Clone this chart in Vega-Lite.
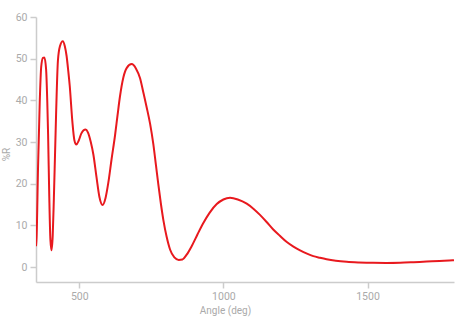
{
  "$schema": "https://vega.github.io/schema/vega-lite/v6.json",
  "width": 418,
  "height": 265,
  "autosize": {"type": "none"},
  "padding": {"left": 36, "top": 17, "right": 20, "bottom": 36},
  "config": {
    "view": {"stroke": null},
    "font": "Roboto",
    "axis": {
      "domainColor": "#cccccc",
      "domainWidth": 1.5,
      "tickColor": "#cccccc",
      "tickWidth": 1.5,
      "tickSize": 6,
      "labelColor": "#aaaaaa",
      "labelFont": "Roboto",
      "labelFontSize": 10.5,
      "titleColor": "#aaaaaa",
      "titleFont": "Roboto",
      "titleFontSize": 10,
      "titleFontWeight": "normal",
      "grid": false
    }
  },
  "data": {
    "values": [
      {"deg": 350, "r": 5.0},
      {"deg": 352, "r": 7.0},
      {"deg": 357, "r": 23.7},
      {"deg": 363, "r": 39.7},
      {"deg": 368, "r": 48.0},
      {"deg": 374, "r": 50.2},
      {"deg": 379, "r": 50.3},
      {"deg": 385, "r": 47.5},
      {"deg": 389, "r": 40.0},
      {"deg": 392, "r": 31.7},
      {"deg": 396, "r": 17.0},
      {"deg": 400, "r": 6.5},
      {"deg": 404, "r": 4.0},
      {"deg": 408, "r": 7.5},
      {"deg": 412, "r": 16.5},
      {"deg": 416, "r": 27.0},
      {"deg": 420, "r": 37.5},
      {"deg": 426, "r": 49.5},
      {"deg": 433, "r": 53.0},
      {"deg": 443, "r": 54.2},
      {"deg": 450, "r": 53.0},
      {"deg": 456, "r": 50.7},
      {"deg": 462, "r": 47.0},
      {"deg": 467, "r": 43.5},
      {"deg": 476, "r": 35.0},
      {"deg": 483, "r": 30.5},
      {"deg": 490, "r": 29.4},
      {"deg": 498, "r": 30.3},
      {"deg": 507, "r": 32.0},
      {"deg": 515, "r": 32.8},
      {"deg": 522, "r": 33.0},
      {"deg": 530, "r": 32.3},
      {"deg": 540, "r": 30.0},
      {"deg": 549, "r": 27.0},
      {"deg": 560, "r": 21.5},
      {"deg": 570, "r": 16.8},
      {"deg": 581, "r": 14.9},
      {"deg": 591, "r": 16.5},
      {"deg": 601, "r": 20.3},
      {"deg": 612, "r": 25.8},
      {"deg": 624, "r": 31.5},
      {"deg": 633, "r": 36.5},
      {"deg": 641, "r": 40.8},
      {"deg": 653, "r": 45.5},
      {"deg": 665, "r": 47.8},
      {"deg": 682, "r": 48.7},
      {"deg": 697, "r": 47.6},
      {"deg": 711, "r": 45.3},
      {"deg": 722, "r": 42.0},
      {"deg": 734, "r": 38.3},
      {"deg": 746, "r": 34.3},
      {"deg": 757, "r": 29.5},
      {"deg": 766, "r": 24.5},
      {"deg": 774, "r": 20.0},
      {"deg": 783, "r": 15.3},
      {"deg": 792, "r": 11.2},
      {"deg": 803, "r": 7.3},
      {"deg": 815, "r": 4.2},
      {"deg": 830, "r": 2.3},
      {"deg": 845, "r": 1.7},
      {"deg": 858, "r": 1.8},
      {"deg": 872, "r": 2.9},
      {"deg": 890, "r": 5.0},
      {"deg": 910, "r": 7.8},
      {"deg": 930, "r": 10.5},
      {"deg": 952, "r": 13.0},
      {"deg": 977, "r": 15.1},
      {"deg": 1000, "r": 16.2},
      {"deg": 1023, "r": 16.6},
      {"deg": 1050, "r": 16.2},
      {"deg": 1081, "r": 15.2},
      {"deg": 1104, "r": 14.0},
      {"deg": 1127, "r": 12.5},
      {"deg": 1150, "r": 10.8},
      {"deg": 1173, "r": 9.0},
      {"deg": 1196, "r": 7.5},
      {"deg": 1220, "r": 6.0},
      {"deg": 1243, "r": 4.9},
      {"deg": 1266, "r": 4.0},
      {"deg": 1290, "r": 3.2},
      {"deg": 1312, "r": 2.6},
      {"deg": 1335, "r": 2.2},
      {"deg": 1358, "r": 1.85},
      {"deg": 1390, "r": 1.5},
      {"deg": 1428, "r": 1.25},
      {"deg": 1470, "r": 1.1},
      {"deg": 1519, "r": 1.0},
      {"deg": 1565, "r": 0.98},
      {"deg": 1613, "r": 1.02},
      {"deg": 1660, "r": 1.15},
      {"deg": 1705, "r": 1.3},
      {"deg": 1750, "r": 1.45},
      {"deg": 1796, "r": 1.6},
      {"deg": 1800, "r": 1.62}
    ]
  },
  "mark": {"type": "line", "color": "#e8191e", "strokeWidth": 2, "interpolate": "monotone", "clip": true},
  "encoding": {
    "x": {
      "field": "deg",
      "type": "quantitative",
      "scale": {"domain": [350, 1800], "nice": false, "zero": false},
      "axis": {"values": [500, 1000, 1500], "format": "d", "title": "Angle (deg)", "labelPadding": 3, "titlePadding": 4, "titleX": 189}
    },
    "y": {
      "field": "r",
      "type": "quantitative",
      "scale": {"domain": [-3.6, 60], "nice": false, "zero": false},
      "axis": {"values": [0, 10, 20, 30, 40, 50, 60], "format": "d", "title": "%R", "labelPadding": 3, "titlePadding": 4, "titleY": 137}
    }
  }
}
